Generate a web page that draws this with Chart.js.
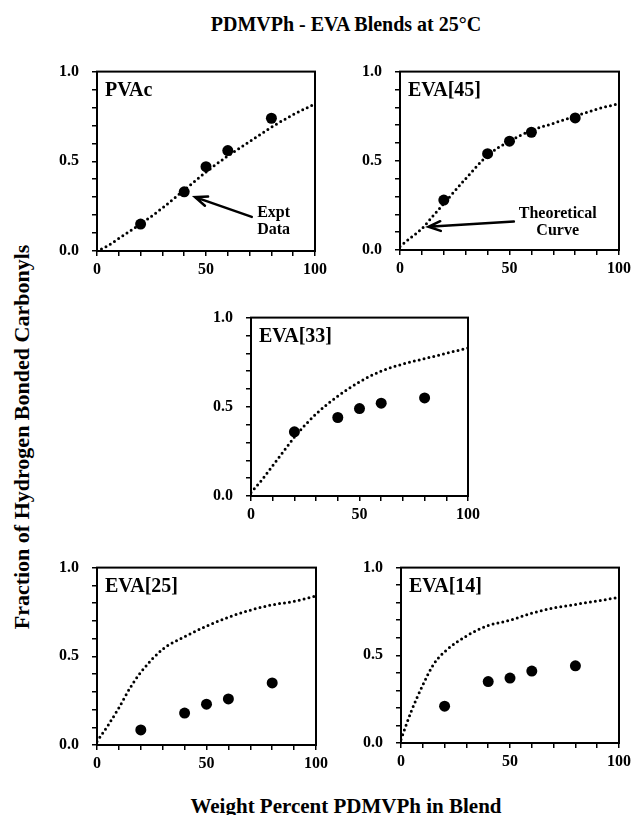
<!DOCTYPE html>
<html>
<head>
<meta charset="utf-8">
<script src="https://cdn.jsdelivr.net/npm/chart.js@4.4.1/dist/chart.umd.min.js"></script>
<style>
  body { margin: 0; background: #fff; width: 632px; height: 815px; position: relative; overflow: hidden;
         font-family: "Liberation Serif", "Times New Roman", serif; font-weight: bold; color: #000; }
  canvas { position: absolute; }
  .txt { position: absolute; white-space: nowrap; }
</style>
</head>
<body>
<div class="txt" id="title" style="left:0;width:692px;top:13px;text-align:center;font-size:20px;">PDMVPh - EVA Blends at 25°C</div>
<div class="txt" id="ytitle" style="left:22px;top:437px;font-size:22px;transform:translate(-50%,-50%) rotate(-90deg);">Fraction of Hydrogen Bonded Carbonyls</div>
<div class="txt" id="xtitle" style="left:0;width:692px;top:794px;text-align:center;font-size:21px;">Weight Percent PDMVPh in Blend</div>

<canvas id="c_pvac"></canvas>
<canvas id="c_eva45"></canvas>
<canvas id="c_eva33"></canvas>
<canvas id="c_eva25"></canvas>
<canvas id="c_eva14"></canvas>

<script>
// x positions of the experimental blends and of the read-off theoretical curve
const exptX = [20, 40, 50, 60, 80];
const curveX = [0, 5, 10, 15, 20, 30, 40, 50, 60, 70, 80, 90, 100];
const xTickLabels = [0, 50, 100];
const yTickLabels = [0.0, 0.5, 1.0];

// experimental data (filled circles)
const pvacExpt  = [0.15, 0.33, 0.47, 0.56, 0.74];
const eva45Expt = [0.28, 0.54, 0.61, 0.66, 0.74];
const eva33Expt = [0.36, 0.44, 0.49, 0.52, 0.55];
const eva25Expt = [0.085, 0.18, 0.23, 0.26, 0.35];
const eva14Expt = [0.21, 0.35, 0.37, 0.41, 0.44];

// theoretical curves (dotted)
const pvacCurve  = [0.00, 0.03, 0.07, 0.11, 0.15, 0.24, 0.34, 0.44, 0.53, 0.61, 0.69, 0.76, 0.82];
const eva45Curve = [0.02, 0.07, 0.12, 0.19, 0.26, 0.40, 0.53, 0.61, 0.67, 0.71, 0.75, 0.79, 0.82];
const eva33Curve = [0.02, 0.09, 0.17, 0.25, 0.33, 0.46, 0.56, 0.64, 0.70, 0.74, 0.77, 0.80, 0.83];
const eva25Curve = [0.02, 0.11, 0.21, 0.32, 0.41, 0.54, 0.61, 0.67, 0.72, 0.76, 0.79, 0.81, 0.84];
const eva14Curve = [0.02, 0.19, 0.33, 0.45, 0.52, 0.61, 0.67, 0.70, 0.74, 0.77, 0.79, 0.81, 0.83];

const FONT = '"Liberation Serif", "Times New Roman", serif';
Chart.defaults.font.family = FONT;
Chart.defaults.font.weight = 'bold';
Chart.defaults.font.size = 16;
Chart.defaults.color = '#000';

// axis sizes kept fixed so the plot boxes land where we want them
const Y_W = 50, X_H = 30, PAD_T = 10, PAD_R = 22;

function isOneOf(v, list) {
  return list.some((t) => Math.abs(t - v) < 1e-6);
}

// frame + panel name + optional arrow note
const panelPlugin = {
  id: 'panel',
  afterDraw(chart, args, opts) {
    const { ctx, chartArea: a, scales } = chart;
    ctx.save();
    ctx.strokeStyle = '#000';
    ctx.lineWidth = 2;
    ctx.strokeRect(a.left, a.top, a.right - a.left, a.bottom - a.top);

    ctx.fillStyle = '#000';
    ctx.font = 'bold 20px ' + FONT;
    ctx.textBaseline = 'top';
    ctx.textAlign = 'left';
    ctx.fillText(opts.name, a.left + 8, a.top + 9);

    if (opts.note) {
      const n = opts.note;
      const x = scales.x, y = scales.y;
      const x0 = x.getPixelForValue(n.from[0]), y0 = y.getPixelForValue(n.from[1]);
      const x1 = x.getPixelForValue(n.to[0]), y1 = y.getPixelForValue(n.to[1]);
      ctx.lineWidth = 2.5;
      ctx.lineCap = 'round';
      ctx.beginPath();
      ctx.moveTo(x0, y0);
      ctx.lineTo(x1, y1);
      const ang = Math.atan2(y1 - y0, x1 - x0);
      const len = 13, spread = 0.38;
      ctx.moveTo(x1 - len * Math.cos(ang - spread), y1 - len * Math.sin(ang - spread));
      ctx.lineTo(x1, y1);
      ctx.lineTo(x1 - len * Math.cos(ang + spread), y1 - len * Math.sin(ang + spread));
      ctx.stroke();

      ctx.font = 'bold 16px ' + FONT;
      ctx.textAlign = 'center';
      ctx.textBaseline = 'middle';
      n.lines.forEach((line, i) => {
        ctx.fillText(line, x.getPixelForValue(n.textX), y.getPixelForValue(n.textY[i]));
      });
    }
    ctx.restore();
  }
};

function makePanel(id, box, name, curve, expt, note) {
  const cv = document.getElementById(id);
  const w = box.right - box.left, h = box.bottom - box.top;
  cv.width = w + Y_W + PAD_R;
  cv.height = h + PAD_T + X_H;
  cv.style.left = (box.left - Y_W) + 'px';
  cv.style.top = (box.top - PAD_T) + 'px';

  const axisGrid = {
    drawOnChartArea: false,
    drawTicks: true,
    tickLength: 5,
    color: '#000',
    lineWidth: 1.5
  };

  new Chart(cv, {
    type: 'scatter',
    data: {
      datasets: [
        {
          label: 'Theoretical',
          data: curveX.map((x, i) => ({ x: x, y: curve[i] })),
          showLine: true,
          borderColor: '#000',
          borderWidth: 3,
          borderDash: [0, 5],
          borderCapStyle: 'round',
          cubicInterpolationMode: 'monotone',
          pointRadius: 0,
          fill: false
        },
        {
          label: 'Expt',
          data: exptX.map((x, i) => ({ x: x, y: expt[i] })),
          showLine: false,
          pointRadius: 5.5,
          pointBackgroundColor: '#000',
          pointBorderWidth: 0
        }
      ]
    },
    options: {
      responsive: false,
      animation: false,
      layout: { padding: { top: PAD_T, right: PAD_R, left: 0, bottom: 0 } },
      plugins: {
        legend: { display: false },
        tooltip: { enabled: false },
        panel: { name: name, note: note }
      },
      scales: {
        x: {
          type: 'linear',
          min: 0,
          max: 100,
          afterFit: (s) => { s.height = X_H; },
          ticks: {
            stepSize: 10,
            padding: 4,
            maxRotation: 0,
            autoSkip: false,
            callback: (v) => isOneOf(v, xTickLabels) ? String(Math.round(v)) : ''
          },
          grid: axisGrid,
          border: { display: true, color: '#000', width: 2 }
        },
        y: {
          type: 'linear',
          min: 0,
          max: 1,
          afterFit: (s) => { s.width = Y_W; },
          ticks: {
            stepSize: 0.1,
            padding: 13,
            autoSkip: false,
            callback: (v) => isOneOf(v, yTickLabels) ? v.toFixed(1) : ''
          },
          grid: axisGrid,
          border: { display: true, color: '#000', width: 2 }
        }
      }
    },
    plugins: [panelPlugin]
  });
}

makePanel('c_pvac',  { left: 97,  top: 59,  right: 315, bottom: 251 }, 'PVAc', pvacCurve, pvacExpt,
  { from: [71, 0.19], to: [45, 0.30], lines: ['Expt', 'Data'], textX: 81, textY: [0.21, 0.12] });
makePanel('c_eva45', { left: 400, top: 59,  right: 619, bottom: 250 }, 'EVA[45]', eva45Curve, eva45Expt,
  { from: [52, 0.16], to: [13, 0.13], lines: ['Theoretical', 'Curve'], textX: 72, textY: [0.20, 0.105] });
makePanel('c_eva33', { left: 251, top: 305, right: 468, bottom: 496 }, 'EVA[33]', eva33Curve, eva33Expt, null);
makePanel('c_eva25', { left: 97,  top: 555, right: 316, bottom: 745 }, 'EVA[25]', eva25Curve, eva25Expt, null);
makePanel('c_eva14', { left: 401, top: 555, right: 619, bottom: 743 }, 'EVA[14]', eva14Curve, eva14Expt, null);
</script>
</body>
</html>
